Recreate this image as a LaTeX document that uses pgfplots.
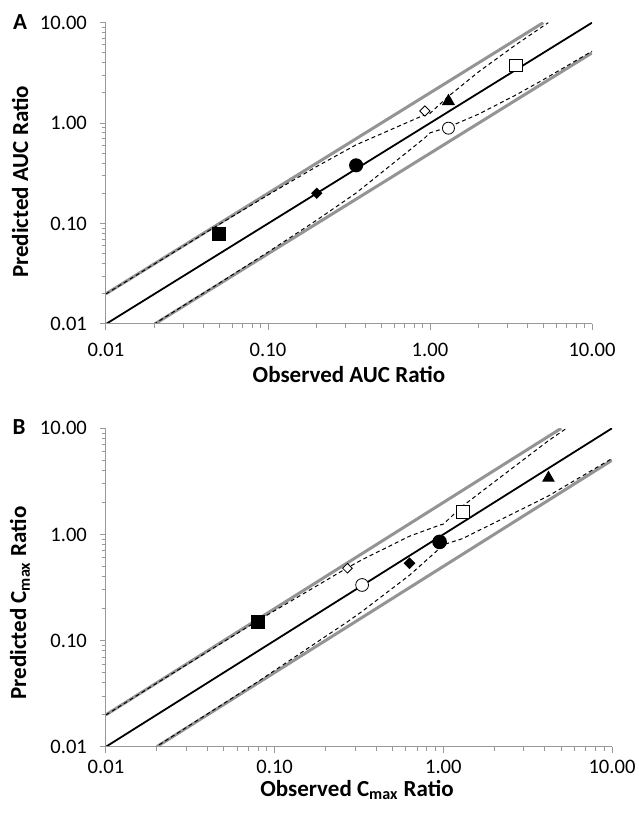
\documentclass[border=0pt]{standalone}
\usepackage{pgfplots}
\pgfplotsset{compat=1.18}
\usepackage{fontspec}
\setmainfont{Carlito}
\definecolor{axisgray}{HTML}{999999}
\definecolor{foldgray}{HTML}{949494}
\pgfplotsset{
  ratioaxis/.style={scale only axis,
    xmin=0.01, xmax=10, ymin=0.01, ymax=10,
    axis line style={draw=none},
    xtick pos=left, ytick pos=left, tick align=outside,
    xtick={0.01,0.1,1,10}, xticklabels={0.01,0.10,1.00,10.00},
    ytick={0.01,0.1,1,10}, yticklabels={0.01,0.10,1.00,10.00},
    minor xtick={0.02,0.03,0.04,0.05,0.06,0.07,0.08,0.09,0.2,0.3,0.4,0.5,0.6,0.7,0.8,0.9,2,3,4,5,6,7,8,9},
    minor ytick={0.02,0.03,0.04,0.05,0.06,0.07,0.08,0.09,0.2,0.3,0.4,0.5,0.6,0.7,0.8,0.9,2,3,4,5,6,7,8,9},
    major tick length=3pt, minor tick length=2pt,
    every tick/.style={draw=axisgray, line width=0.5pt},
    every minor tick/.style={draw=axisgray, line width=0.5pt},
    every major tick/.style={draw=axisgray, line width=0.5pt},
    tick label style={font=\fontsize{10.3}{12}\selectfont, text=black},
    yticklabel style={xshift=-3pt},
    /pgf/number format/assume math mode=true,
    extra description/.code={\draw[axisgray, line width=0.5pt] (rel axis cs:0,1) -- (rel axis cs:0,0) -- (rel axis cs:1,0);}},
  fold/.style={foldgray, line width=1.5pt},
  unity/.style={black, line width=0.9pt},
  guest/.style={black, line width=0.5pt, dash pattern=on 2pt off 1.5pt},
  mk/.style={only marks, black, mark options={solid, line width=0.5pt}},
}
\newcommand{\lab}{\fontsize{11.5}{13}\selectfont\bfseries}

\begin{document}
\begin{tikzpicture}
\useasboundingbox (0,0) rectangle (319pt,408.5pt);

% panel A: AUC
\begin{loglogaxis}[ratioaxis, at={(53pt,246.5pt)}, anchor=south west, width=243pt, height=150.65pt,
  xticklabel style={yshift=-3pt}]
\addplot[fold] coordinates {(0.01,0.02) (5,10)};
\addplot[fold] coordinates {(0.02,0.01) (10,5)};
\addplot[unity] coordinates {(0.01,0.01) (10,10)};
\addplot[guest] coordinates {(0.01,0.019925) (0.02,0.0397) (0.05,0.098125) (0.1,0.1925) (0.2,0.37) (0.35,0.608125) (0.93,1.211325) (1.0,1.25) (1.3,1.85) (2,3.25) (3.4,6.05) (5,9.25) (5.375,10)};
\addplot[guest] coordinates {(0.01,0.005019) (0.02,0.010076) (0.05,0.025478) (0.1,0.051948) (0.2,0.108108) (0.35,0.201439) (0.93,0.714012) (1.0,0.8) (1.3,0.913514) (2,1.230769) (3.4,1.910744) (5,2.702703) (10,5.194805)};
\addplot[mk, mark=square*, mark size=3.25pt] coordinates {(0.05,0.078)};
\addplot[mk, mark=square*, mark size=1.8pt, mark options={rotate=45}] coordinates {(0.2,0.2)};
\addplot[mk, mark=*, mark size=3.25pt] coordinates {(0.35,0.38)};
\addplot[mk, mark=square*, mark size=1.8pt, mark options={rotate=45, fill=white}] coordinates {(0.93,1.32)};
\addplot[mk, mark=triangle*, mark size=3.3pt] coordinates {(1.3,1.65)};
\addplot[mk, mark=*, mark size=3pt, mark options={fill=white}] coordinates {(1.3,0.89)};
\addplot[mk, mark=square*, mark size=3.2pt, mark options={fill=white}] coordinates {(3.4,3.75)};
\end{loglogaxis}

% panel B: Cmax
\begin{loglogaxis}[ratioaxis, at={(53pt,35.15pt)}, anchor=south west, width=253pt, height=159.2pt,
  xticklabel style={yshift=0pt}]
\addplot[fold] coordinates {(0.01,0.02) (5,10)};
\addplot[fold] coordinates {(0.02,0.01) (10,5)};
\addplot[unity] coordinates {(0.01,0.01) (10,10)};
\addplot[guest] coordinates {(0.01,0.019925) (0.02,0.0397) (0.08,0.1552) (0.27,0.485325) (0.33,0.578325) (0.63,0.962325) (0.95,1.223125) (1.0,1.25) (1.3,1.85) (4.2,7.65) (5.375,10)};
\addplot[guest] coordinates {(0.01,0.005019) (0.02,0.010076) (0.08,0.041237) (0.27,0.150209) (0.33,0.188302) (0.63,0.412439) (0.95,0.737864) (1.0,0.8) (1.3,0.913514) (4.2,2.305882) (10,5.194805)};
\addplot[mk, mark=square*, mark size=3.3pt] coordinates {(0.08,0.15)};
\addplot[mk, mark=square*, mark size=1.7pt, mark options={rotate=45, fill=white}] coordinates {(0.27,0.48)};
\addplot[mk, mark=*, mark size=3.2pt, mark options={fill=white}] coordinates {(0.33,0.334)};
\addplot[mk, mark=square*, mark size=1.9pt, mark options={rotate=45}] coordinates {(0.63,0.535)};
\addplot[mk, mark=*, mark size=3.4pt] coordinates {(0.95,0.85)};
\addplot[mk, mark=square*, mark size=3.2pt, mark options={fill=white}] coordinates {(1.3,1.62)};
\addplot[mk, mark=triangle*, mark size=3.2pt] coordinates {(4.2,3.4)};
\end{loglogaxis}

\node[font=\lab] at (10pt,397.5pt) {A};
\node[font=\lab] at (9.5pt,195pt) {B};
\node[font=\lab, rotate=90] at (10pt,317.5pt) {Predicted AUC Ratio};
\node[font=\lab, rotate=90] at (10pt,107pt) {Predicted C\textsubscript{max} Ratio};
\node[font=\lab] at (174.5pt,221pt) {Observed AUC Ratio};
\node[font=\lab] at (178.5pt,13.5pt) {Observed C\textsubscript{max} Ratio};
\end{tikzpicture}
\end{document}
